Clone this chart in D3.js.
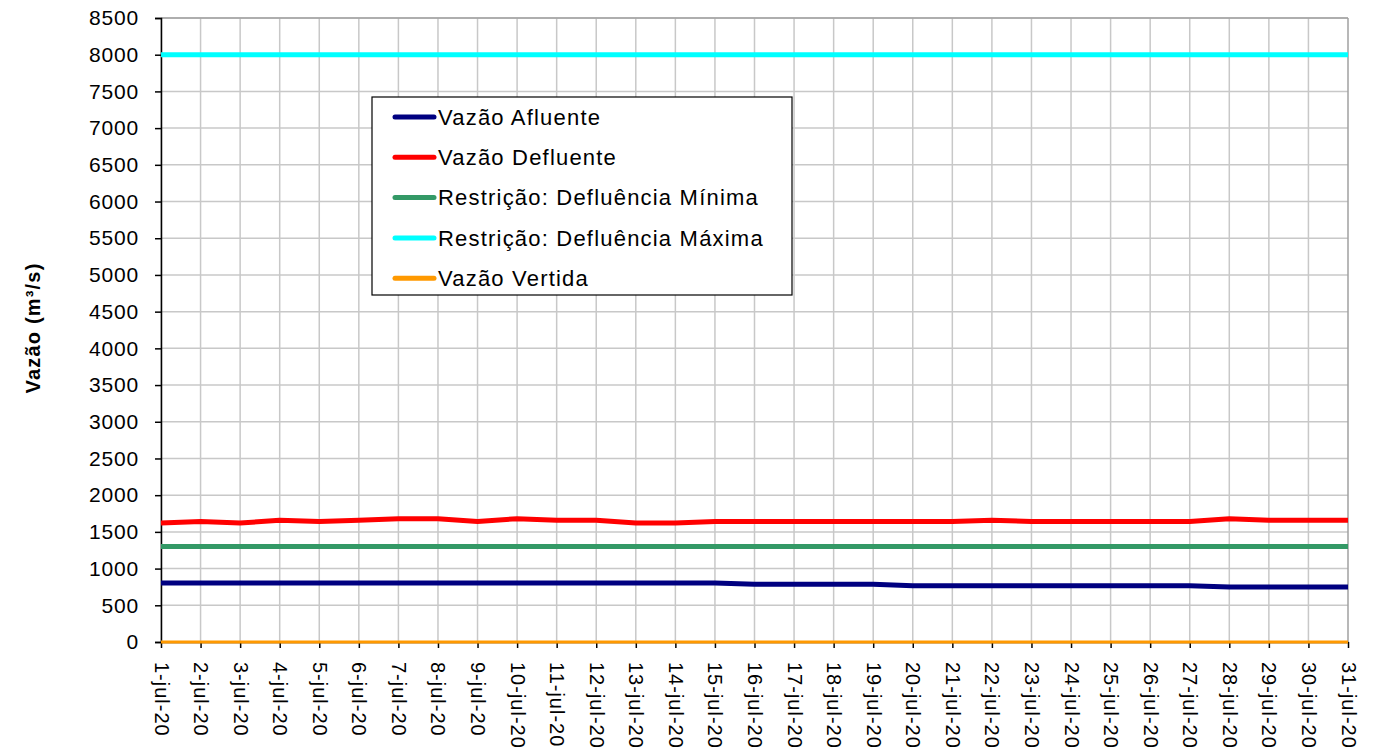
<!DOCTYPE html>
<html>
<head>
<meta charset="utf-8">
<script src="https://cdn.jsdelivr.net/npm/d3@7"></script>
<style>
  body { margin: 0; background: #fff; }
  text { font-family: 'Liberation Sans', Arial, sans-serif; }
</style>
</head>
<body>
<svg id="chart" width="1375" height="754"></svg>
<script>
// day labels along the x axis
const dayLabels = ["1-jul-20","2-jul-20","3-jul-20","4-jul-20","5-jul-20","6-jul-20","7-jul-20","8-jul-20",
  "9-jul-20","10-jul-20","11-jul-20","12-jul-20","13-jul-20","14-jul-20","15-jul-20","16-jul-20",
  "17-jul-20","18-jul-20","19-jul-20","20-jul-20","21-jul-20","22-jul-20","23-jul-20","24-jul-20",
  "25-jul-20","26-jul-20","27-jul-20","28-jul-20","29-jul-20","30-jul-20","31-jul-20"];

const vazaoAfluente = [805,805,805,805,805,805,805,805,805,805,805,805,805,805,805,
  785,785,785,785,765,765,765,765,765,765,765,765,750,750,750,750];
const vazaoDefluente = [1620,1640,1620,1660,1640,1660,1680,1680,1640,1680,1660,1660,1620,1620,1640,
  1640,1640,1640,1640,1640,1640,1660,1640,1640,1640,1640,1640,1680,1660,1660,1660];
const defluenciaMinima = [1300,1300,1300,1300,1300,1300,1300,1300,1300,1300,1300,1300,1300,1300,1300,
  1300,1300,1300,1300,1300,1300,1300,1300,1300,1300,1300,1300,1300,1300,1300,1300];
const defluenciaMaxima = [8000,8000,8000,8000,8000,8000,8000,8000,8000,8000,8000,8000,8000,8000,8000,
  8000,8000,8000,8000,8000,8000,8000,8000,8000,8000,8000,8000,8000,8000,8000,8000];
const vazaoVertida = [0,0,0,0,0,0,0,0,0,0,0,0,0,0,0,0,0,0,0,0,0,0,0,0,0,0,0,0,0,0,0];

const yTicks = d3.range(0, 8501, 500);

const series = [
  { name: "Vazão Afluente", values: vazaoAfluente, color: "#000080", width: 5 },
  { name: "Vazão Defluente", values: vazaoDefluente, color: "#ff0000", width: 5 },
  { name: "Restrição: Defluência Mínima", values: defluenciaMinima, color: "#339966", width: 5 },
  { name: "Restrição: Defluência Máxima", values: defluenciaMaxima, color: "#00ffff", width: 5 },
  { name: "Vazão Vertida", values: vazaoVertida, color: "#ff9900", width: 3 }
];

const margin = {top: 18, left: 161, right: 27, bottom: 112};
const width = 1375 - margin.left - margin.right;
const height = 754 - margin.top - margin.bottom;

const svg = d3.select("#chart");
const g = svg.append("g").attr("transform", "translate(" + margin.left + "," + margin.top + ")");

const xScale = d3.scalePoint().domain(dayLabels).range([0, width]);
const yScale = d3.scaleLinear().domain([0, 8500]).range([height, 0]);

// grid
g.append("g").selectAll("line").data(yTicks).enter().append("line")
  .attr("x1", 0).attr("x2", width)
  .attr("y1", d => yScale(d)).attr("y2", d => yScale(d))
  .attr("stroke", "#c8c8c8").attr("stroke-width", 1.5);

g.append("g").selectAll("line").data(dayLabels).enter().append("line")
  .attr("x1", d => xScale(d)).attr("x2", d => xScale(d))
  .attr("y1", 0).attr("y2", height)
  .attr("stroke", d => d === dayLabels[dayLabels.length - 1] ? "#a0a0a0" : "#c8c8c8")
  .attr("stroke-width", 1.5);

g.append("line").attr("x1", 0).attr("x2", width).attr("y1", 0).attr("y2", 0)
  .attr("stroke", "#a0a0a0").attr("stroke-width", 1.5);

// axes
const yAxis = d3.axisLeft(yScale).tickValues(yTicks).tickFormat(d3.format("d"))
  .tickSize(6).tickPadding(16);
const yG = g.append("g").call(yAxis);
yG.select(".domain").attr("stroke", "#000").attr("stroke-width", 1.5);
yG.selectAll(".tick line").attr("stroke", "#000").attr("stroke-width", 1.5);
yG.selectAll("text").attr("font-size", "21px").attr("letter-spacing", "0.8px")
  .attr("fill", "#000").style("font-family", "'Liberation Sans', Arial, sans-serif");

const xAxis = d3.axisBottom(xScale).tickSize(6).tickSizeOuter(0);
const xG = g.append("g").attr("transform", "translate(0," + height + ")").call(xAxis);
xG.select(".domain").attr("stroke", "#000").attr("stroke-width", 1.5);
xG.selectAll(".tick line").attr("stroke", "#000").attr("stroke-width", 1.5);
xG.selectAll("text")
  .attr("transform", "rotate(90)")
  .attr("x", 20).attr("y", 0).attr("dy", "0.35em")
  .attr("text-anchor", "start")
  .attr("font-size", "20px").attr("letter-spacing", "1px")
  .attr("fill", "#000").style("font-family", "'Liberation Sans', Arial, sans-serif");

// lines
const lineGen = d3.line()
  .x((d, i) => xScale(dayLabels[i]))
  .y(d => yScale(d));

g.append("g").selectAll("path").data(series).enter().append("path")
  .attr("d", d => lineGen(d.values))
  .attr("fill", "none")
  .attr("stroke", d => d.color)
  .attr("stroke-width", d => d.width)
  .attr("stroke-linejoin", "round");

// y axis title
svg.append("text")
  .attr("transform", "translate(33, 328) rotate(-90)")
  .attr("text-anchor", "middle")
  .attr("dy", "0.35em")
  .attr("font-size", "20px")
  .attr("font-weight", "bold")
  .attr("letter-spacing", "1.2px")
  .text("Vazão (m³/s)");

// legend
const legend = svg.append("g").attr("transform", "translate(372, 97)");
legend.append("rect")
  .attr("width", 420).attr("height", 198)
  .attr("fill", "#fff").attr("stroke", "#000").attr("stroke-width", 1.2);

const items = legend.selectAll(".legends").data(series).enter().append("g")
  .classed("legends", true)
  .attr("transform", (d, i) => "translate(0," + (20 + i * 40.3) + ")");

items.append("line")
  .attr("x1", 23).attr("x2", 62)
  .attr("stroke", d => d.color).attr("stroke-width", 5)
  .attr("stroke-linecap", "round");

items.append("text")
  .attr("x", 66).attr("dy", "0.35em")
  .attr("font-size", "22px").attr("letter-spacing", "1.2px")
  .text(d => d.name);
</script>
</body>
</html>
